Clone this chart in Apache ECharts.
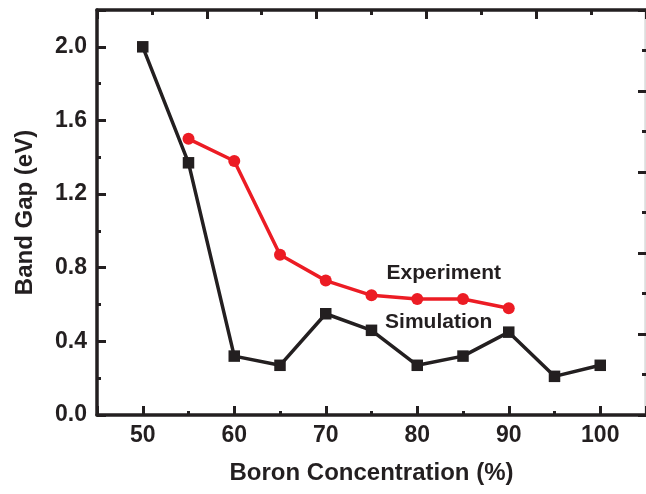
<!DOCTYPE html>
<html>
<head>
<meta charset="utf-8">
<script src="https://cdn.jsdelivr.net/npm/echarts@6/dist/echarts.min.js"></script>
<style>
html,body{margin:0;padding:0;background:#fff;}
#chart{width:646px;height:494px;}
</style>
</head>
<body>
<div id="chart"></div>
<script>
const concentration = [50, 55, 60, 65, 70, 75, 80, 85, 90, 95, 100];
const simulation = [2.0, 1.37, 0.32, 0.27, 0.55, 0.46, 0.27, 0.32, 0.45, 0.21, 0.27];
const experimentConcentration = [55, 60, 65, 70, 75, 80, 85, 90];
const experiment = [1.5, 1.38, 0.87, 0.73, 0.65, 0.63, 0.63, 0.58];
const seriesNames = ['Simulation', 'Experiment'];
const xTitle = 'Boron Concentration (%)';
const yTitle = 'Band Gap (eV)';

const AX = '#231f20';
const RED = '#ec1c24';
const FONT = '"Liberation Sans", Arial, sans-serif';

const chart = echarts.init(document.getElementById('chart'));
const lineW = 3.5;
chart.setOption({
  animation: false,
  backgroundColor: '#fff',
  grid: {left: 97, right: 0, top: 10, bottom: 79},
  xAxis: [{
    type: 'value', min: 45, max: 105, splitNumber: 6,
    name: xTitle, nameLocation: 'middle', nameGap: 46,
    nameTextStyle: {fontFamily: FONT, fontWeight: 'bold', fontSize: 24, color: AX},
    axisLine: {onZero: false, lineStyle: {color: AX, width: lineW}},
    axisTick: {inside: true, length: 9, lineStyle: {color: AX, width: 3}},
    minorTick: {show: true, splitNumber: 2, length: 4, lineStyle: {color: AX, width: 3}},
    axisLabel: {fontFamily: FONT, fontWeight: 'bold', fontSize: 23, color: AX, margin: 9,
      showMinLabel: false, showMaxLabel: false,
      formatter: v => (v % 10 === 0 ? String(v) : '')},
    splitLine: {show: false}
  }, {
    type: 'value', position: 'top', min: 0, max: 5, interval: 1,
    axisLine: {onZero: false, lineStyle: {color: AX, width: lineW}},
    axisTick: {inside: true, length: 9, lineStyle: {color: AX, width: 3}},
    minorTick: {show: true, splitNumber: 2, length: 5, lineStyle: {color: AX, width: 3}},
    axisLabel: {show: false},
    splitLine: {show: false}
  }],
  yAxis: [{
    type: 'value', min: 0, max: 2.2, interval: 0.4,
    name: yTitle, nameLocation: 'middle', nameGap: 60, nameRotate: 90,
    nameTextStyle: {fontFamily: FONT, fontWeight: 'bold', fontSize: 24, color: AX},
    axisLine: {onZero: false, lineStyle: {color: AX, width: lineW}},
    axisTick: {inside: true, length: 9, lineStyle: {color: AX, width: 3}},
    minorTick: {show: true, splitNumber: 2, length: 4, lineStyle: {color: AX, width: 3}},
    axisLabel: {fontFamily: FONT, fontWeight: 'bold', fontSize: 23, color: AX, margin: 10,
      showMaxLabel: false,
      formatter: v => (Math.abs(v - 2.2) < 1e-6 ? '' : v.toFixed(1))},
    splitLine: {show: false}
  }, {
    type: 'value', position: 'right', min: 0, max: 5, interval: 1,
    axisLine: {onZero: false, lineStyle: {color: '#dddddd', width: lineW}},
    axisTick: {inside: true, length: 8, lineStyle: {color: AX, width: 3}},
    minorTick: {show: true, splitNumber: 2, length: 4, lineStyle: {color: AX, width: 3}},
    axisLabel: {show: false},
    splitLine: {show: false}
  }],
  series: [{
    name: seriesNames[1], type: 'line', xAxisIndex: 0, yAxisIndex: 0,
    data: experimentConcentration.map((x, i) => [x, experiment[i]]),
    symbol: 'circle', symbolSize: 12,
    lineStyle: {color: RED, width: 3.5},
    itemStyle: {color: RED},
    z: 3
  }, {
    name: seriesNames[0], type: 'line', xAxisIndex: 0, yAxisIndex: 0,
    data: concentration.map((x, i) => [x, simulation[i]]),
    symbol: 'rect', symbolSize: 11.5,
    lineStyle: {color: AX, width: 3.5},
    itemStyle: {color: AX},
    z: 4
  }]
});

const p1 = chart.convertToPixel({xAxisIndex: 0, yAxisIndex: 0}, [82.9, 0.772]);
const p2 = chart.convertToPixel({xAxisIndex: 0, yAxisIndex: 0}, [82.35, 0.505]);
chart.setOption({
  graphic: [{
    type: 'text', x: p1[0], y: p1[1], z: 10,
    style: {text: seriesNames[1], fill: AX, font: 'bold 21px ' + FONT, textAlign: 'center', textVerticalAlign: 'middle'}
  }, {
    type: 'text', x: p2[0], y: p2[1], z: 10,
    style: {text: seriesNames[0], fill: AX, font: 'bold 21px ' + FONT, textAlign: 'center', textVerticalAlign: 'middle'}
  }]
});
</script>
</body>
</html>
